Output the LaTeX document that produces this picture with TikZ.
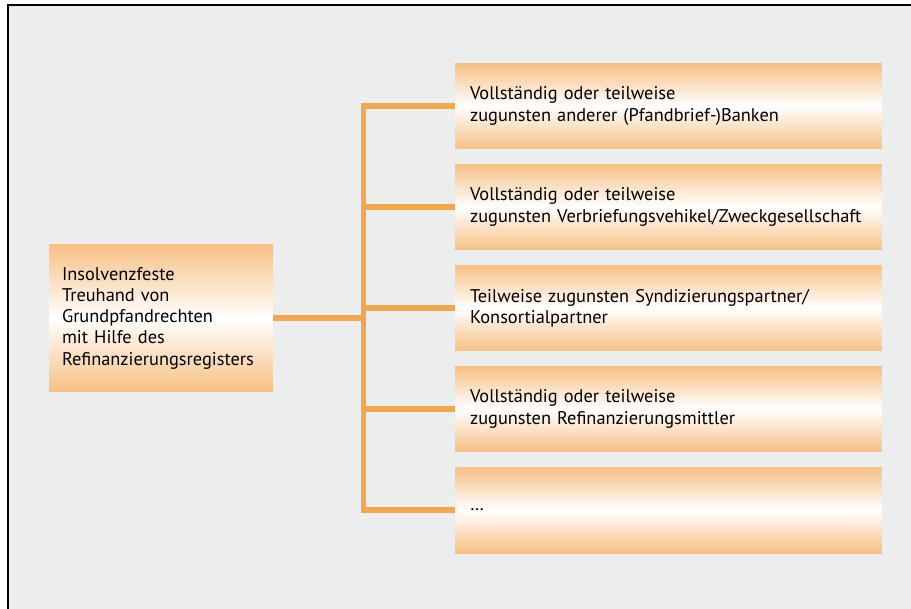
\documentclass[tikz,border=0pt]{standalone}
\usepackage{fontspec}
\setmainfont{PT Sans}
\usetikzlibrary{positioning}
\definecolor{bggray}{RGB}{236,238,237}
\definecolor{boxorange}{RGB}{247,192,132}
\definecolor{lineorange}{RGB}{244,166,76}
\begin{document}
\begin{tikzpicture}[x=0.02cm,y=-0.02cm]
\tikzset{gradbox/.style={rectangle, top color=boxorange, bottom color=boxorange,
    middle color=white, align=left, font=\fontsize{10.45}{12.1}\selectfont}}
\tikzset{targetbox/.style={gradbox, minimum width=8.54cm, minimum height=1.72cm,
    inner xsep=0.3cm, text width=7.94cm}}
\tikzset{branch/.style={draw=lineorange, line width=2.9pt}}

\useasboundingbox (0,0) rectangle (911,608);
\draw[fill=bggray, line width=0.75pt] (8,5) rectangle (930,630);

\node[gradbox, minimum width=4.48cm, minimum height=2.96cm, inner xsep=0.26cm,
  text width=3.96cm] (trust) at (161,318)
  {Insolvenzfeste\\Treuhand von\\Grundpfandrechten\\mit Hilfe des\\Refinanzierungsregisters};

\node[targetbox] (banks) at (668.5,106) {Vollständig oder teilweise\\zugunsten anderer (Pfandbrief-)Banken};
\node[targetbox] (spv) at (668.5,207) {Vollständig oder teilweise\\zugunsten Verbriefungsvehikel/Zweckgesellschaft};
\node[targetbox] (synd) at (668.5,308) {Teilweise zugunsten Syndizierungspartner/\\Konsortialpartner};
\node[targetbox] (refi) at (668.5,409) {Vollständig oder teilweise\\zugunsten Refinanzierungsmittler};
\node[targetbox] (more) at (668.5,510) {\dots};

\coordinate (split) at (363.5,318);
\path[branch] (trust.east) -- (split);
\path[branch] (banks.west) -- (banks.west -| split) -- (more.west -| split) -- (more.west);
\foreach \t in {spv,synd,refi}
  \path[branch] (\t.west -| split) -- (\t.west);
\end{tikzpicture}
\end{document}
